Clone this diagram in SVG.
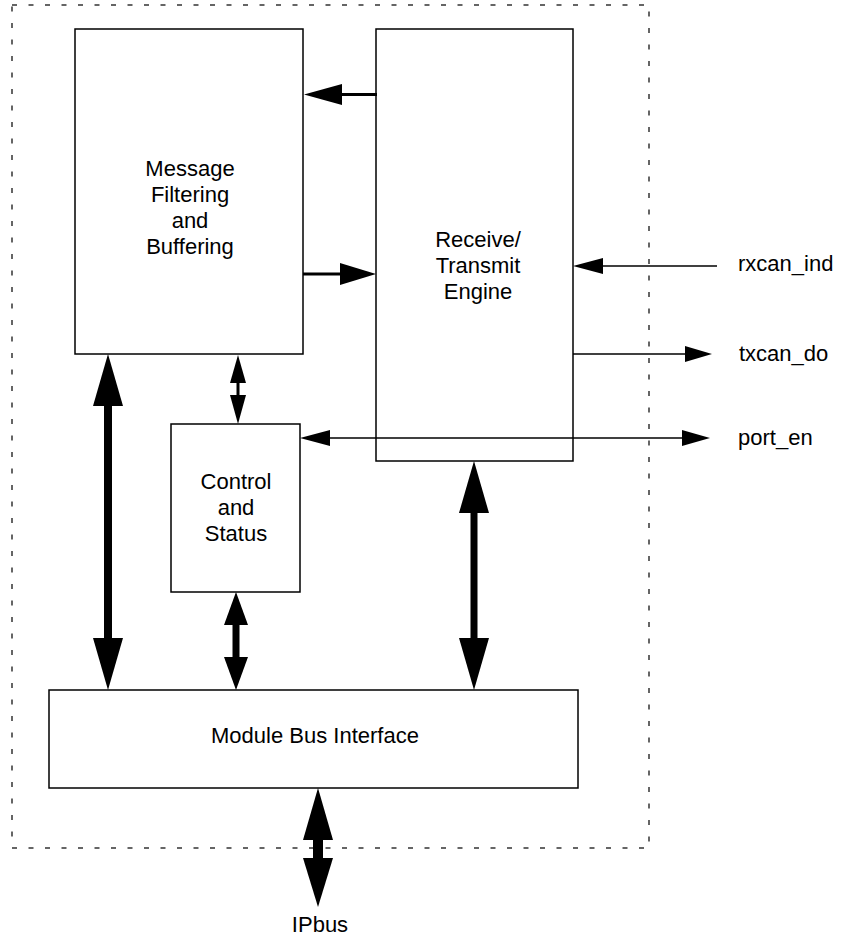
<svg xmlns="http://www.w3.org/2000/svg" width="841" height="941" viewBox="0 0 841 941">
<style>
.box{fill:#fff;stroke:#000;stroke-width:1.5}
.frame{fill:none;stroke:#333;stroke-width:1.5;stroke-dasharray:5 11.5}
.ln{stroke:#000;fill:none}
.hd{fill:#000;stroke:none}
text{font-family:"Liberation Sans",Arial,sans-serif;font-size:22px;fill:#000}
.c{text-anchor:middle}
</style>
<rect width="841" height="941" fill="#fff"/>
<rect class="frame" x="12" y="5" width="637" height="843"/>
<g id="message">
<rect class="box" x="75" y="29" width="228" height="325"/>
<text class="c" x="190" y="176">Message</text>
<text class="c" x="190" y="202">Filtering</text>
<text class="c" x="190" y="228">and</text>
<text class="c" x="190" y="254">Buffering</text>
</g>
<g id="engine">
<rect class="box" x="376" y="29" width="197" height="432"/>
<text class="c" x="478" y="247">Receive/</text>
<text class="c" x="478" y="273">Transmit</text>
<text class="c" x="478" y="299">Engine</text>
</g>
<g id="control">
<rect class="box" x="171" y="424" width="129" height="168"/>
<text class="c" x="236" y="489">Control</text>
<text class="c" x="236" y="515">and</text>
<text class="c" x="236" y="541">Status</text>
</g>
<g id="mbi">
<rect class="box" x="49" y="690" width="529" height="98"/>
<text class="c" x="315" y="743">Module Bus Interface</text>
</g>
<g id="labels">
<text x="738" y="271">rxcan_ind</text>
<text x="739" y="361">txcan_do</text>
<text x="738" y="445">port_en</text>
<text class="c" x="320" y="932">IPbus</text>
</g>
<g id="connectors">
<line class="ln" x1="342" y1="94.5" x2="377" y2="94.5" stroke-width="3"/>
<polygon class="hd" points="304,94.5 342,84 342,105"/>
<line class="ln" x1="303" y1="274" x2="341" y2="274" stroke-width="3"/>
<polygon class="hd" points="376,274 340,263 340,285"/>
<line class="ln" x1="600" y1="266" x2="717" y2="266" stroke-width="1.5"/>
<polygon class="hd" points="573,266 603,258 603,274"/>
<line class="ln" x1="573" y1="354" x2="688" y2="354" stroke-width="1.5"/>
<polygon class="hd" points="712,354 685,346 685,362"/>
<line class="ln" x1="328" y1="438" x2="684" y2="438" stroke-width="1.5"/>
<polygon class="hd" points="300,438 330,430 330,446"/>
<polygon class="hd" points="710,438 682,430 682,446"/>
<line class="ln" x1="238" y1="380" x2="238" y2="398" stroke-width="3"/>
<polygon class="hd" points="238,355 230,383 246,383"/>
<polygon class="hd" points="238,424 230,395 246,395"/>
<line class="ln" x1="108" y1="400" x2="108" y2="644" stroke-width="8"/>
<polygon class="hd" points="108,354 93,406 123,406"/>
<polygon class="hd" points="108,690 93,638 123,638"/>
<line class="ln" x1="474" y1="508" x2="474" y2="643" stroke-width="7"/>
<polygon class="hd" points="474,461 459,513 489,513"/>
<polygon class="hd" points="474,690 459,638 489,638"/>
<line class="ln" x1="236" y1="620" x2="236" y2="662" stroke-width="7"/>
<polygon class="hd" points="236,592 224,625 248,625"/>
<polygon class="hd" points="236,690 224,657 248,657"/>
<line class="ln" x1="318" y1="835" x2="318" y2="863" stroke-width="10"/>
<polygon class="hd" points="318,788 303,840 333,840"/>
<polygon class="hd" points="318,907 303,858 333,858"/>
</g>
</svg>
